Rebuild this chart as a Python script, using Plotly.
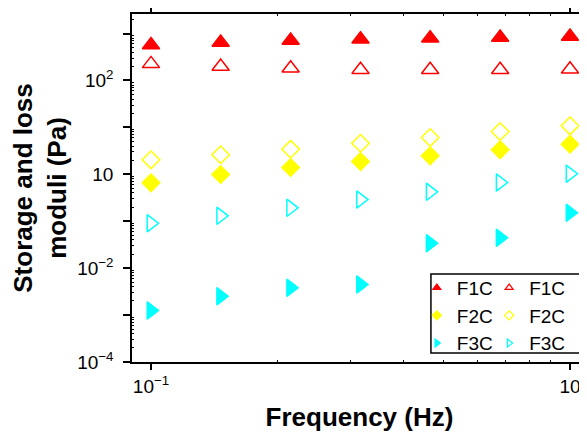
import plotly.graph_objects as go

# ---- data ----
freq = [0.1, 0.215, 0.464, 1.0, 2.15, 4.64, 10.0]
f1c_storage = [573, 644, 711, 757, 796, 824, 865]
f1c_loss = [226, 199, 183, 169, 169, 169, 174]
f2c_storage = [0.66, 0.99, 1.40, 1.87, 2.48, 3.33, 4.38]
f2c_loss = [2.04, 2.61, 3.43, 4.60, 6.09, 8.17, 10.8]
f3c_storage = [0.00125, 0.00252, 0.00381, 0.00448, 0.034, 0.0443, 0.151]
f3c_loss = [0.0907, 0.1305, 0.193, 0.290, 0.424, 0.669, 1.03]

series_names = ["F1C", "F2C", "F3C"]
x_tick_vals = [0.1, 10]
x_tick_text = ["10<sup>−1</sup>", "10"]
x_minor_vals = [0.4, 0.9, 1.6, 2.5, 3.6, 4.9, 6.4, 8.1]
y_tick_vals = [1e-4, 1e-3, 1e-2, 1e-1, 1e0, 1e1, 1e2, 1e3]
y_tick_text = ["10<sup>−4</sup>", "", "10<sup>−2</sup>", "", "10", "", "10<sup>2</sup>", ""]

FONT = "Liberation Sans, Arial, sans-serif"
RED, YEL, CYA = "#FF0000", "#FFFF00", "#00FFFF"

fig = go.Figure()

specs = [
    (f1c_storage, "triangle-up", RED, series_names[0], "legend"),
    (f1c_loss, "triangle-up-open", RED, series_names[0], "legend2"),
    (f2c_storage, "diamond", YEL, series_names[1], "legend"),
    (f2c_loss, "diamond-open", YEL, series_names[1], "legend2"),
    (f3c_storage, "triangle-right", CYA, series_names[2], "legend"),
    (f3c_loss, "triangle-right-open", CYA, series_names[2], "legend2"),
]

for vals, sym, col, name, leg in specs:
    size = 13.5 if sym.startswith("diamond") else 15
    fig.add_trace(go.Scatter(
        x=freq, y=vals, mode="markers", showlegend=False,
        marker=dict(symbol=sym, color=col, size=size, line=dict(color=col, width=1.5)),
    ))

# legend-only entries with small symbols
for vals, sym, col, name, leg in specs:
    fig.add_trace(go.Scatter(
        x=[None], y=[None], mode="markers", name=name, legend=leg, showlegend=True,
        marker=dict(symbol=sym, color=col, size=7, line=dict(color=col, width=1.2)),
    ))

legend_common = dict(
    bgcolor="rgba(0,0,0,0)", borderwidth=0,
    font=dict(family=FONT, size=19, color="black"),
    xanchor="left", yanchor="top", orientation="v",
)

fig.update_layout(
    width=579, height=424,
    margin=dict(l=124, r=0, t=6, b=70, autoexpand=False),
    paper_bgcolor="white", plot_bgcolor="white",
    font=dict(family=FONT, color="black"),
    showlegend=True,
    legend=dict(x=0.626, y=0.268, **legend_common),
    legend2=dict(x=0.785, y=0.268, **legend_common),
    shapes=[dict(type="rect", xref="paper", yref="paper",
                 x0=0.657, x1=0.9846, y0=0.0259, y1=0.2529,
                 line=dict(color="black", width=1.5), fillcolor="rgba(0,0,0,0)")],
)

fig.update_xaxes(
    type="log", range=[-1.0907, 1.0811], automargin=False,
    showgrid=False, zeroline=False,
    showline=True, linecolor="black", linewidth=1.5, mirror="ticks",
    tickmode="array", tickvals=x_tick_vals, ticktext=x_tick_text,
    ticks="outside", ticklen=6, tickwidth=1.5, tickcolor="black",
    tickfont=dict(family=FONT, size=19, color="black"),
    minor=dict(tickmode="array", tickvals=x_minor_vals, ticks="inside",
               ticklen=2, tickwidth=1, tickcolor="black", showgrid=False),
    title=dict(text="<b>Frequency (Hz)</b>", standoff=14,
               font=dict(family=FONT, size=26, color="black")),
)

y_minor = [d * 10.0 ** k for k in range(-4, 4) for d in range(2, 10)]
fig.update_yaxes(
    type="log", range=[-4, 3.417], automargin=False,
    showgrid=False, zeroline=False,
    showline=True, linecolor="black", linewidth=1.5, mirror=False,
    tickmode="array", tickvals=y_tick_vals, ticktext=y_tick_text,
    ticks="outside", ticklen=7, tickwidth=1.5, tickcolor="black",
    ticklabelstandoff=6,
    tickfont=dict(family=FONT, size=19, color="black"),
    minor=dict(tickmode="array", tickvals=y_minor, ticks="inside",
               ticklen=2, tickwidth=1, tickcolor="black", showgrid=False),
    title=dict(text="<b>Storage and loss<br>moduli (Pa)</b>",
               font=dict(family=FONT, size=26, color="black")),
)

fig.write_html("out.html")
